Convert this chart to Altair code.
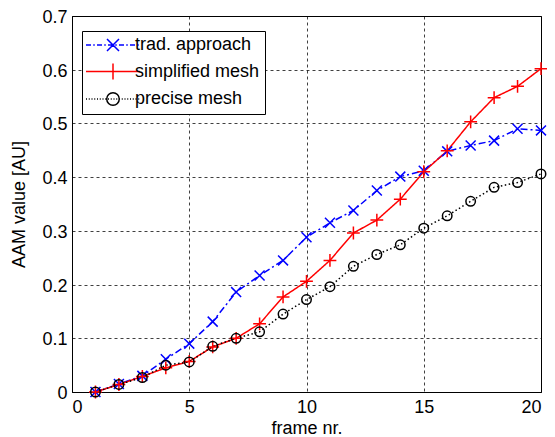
import altair as alt
import pandas as pd

frames = list(range(1, 21))
trad = [0.0, 0.015, 0.030, 0.061, 0.090, 0.131, 0.186, 0.217, 0.245, 0.288,
        0.315, 0.338, 0.375, 0.401, 0.412, 0.448, 0.459, 0.468, 0.490, 0.487]
simplified = [0.0, 0.014, 0.029, 0.045, 0.057, 0.084, 0.100, 0.127, 0.177, 0.206,
              0.245, 0.296, 0.320, 0.359, 0.410, 0.449, 0.503, 0.548, 0.569, 0.602]
precise = [0.0, 0.014, 0.027, 0.050, 0.056, 0.085, 0.100, 0.112, 0.145, 0.172,
           0.196, 0.234, 0.256, 0.274, 0.305, 0.328, 0.355, 0.381, 0.390, 0.406]
series_names = ["trad. approach", "simplified mesh", "precise mesh"]
series_colors = ["#0000ff", "#ff0000", "#000000"]
x_ticks = [0, 5, 10, 15, 20]
y_ticks = [0, 0.1, 0.2, 0.3, 0.4, 0.5, 0.6, 0.7]

rows = []
for name, vals in zip(series_names, [trad, simplified, precise]):
    for f, v in zip(frames, vals):
        rows.append({"frame": f, "value": v, "series": name})
df = pd.DataFrame(rows)

FONT = "Liberation Sans"

color_scale = alt.Scale(domain=series_names, range=series_colors)
dash_scale = alt.Scale(domain=series_names, range=[[7, 3, 2, 3], [1, 0], [1.5, 2.5]])
marker_scale = alt.Scale(
    domain=series_names,
    range=[
        "M-1.05,-1.05L1.05,1.05M-1.05,1.05L1.05,-1.05",
        "M-1.35,0L1.35,0M0,-1.35L0,1.35",
        "circle",
    ],
)

# legend symbols: line segment (dash drawn into the path) + marker
leg_x = "M-1.2,-1.2L1.2,1.2M-1.2,1.2L1.2,-1.2"
leg_plus = "M-1.6,0L1.6,0M0,-1.6L0,1.6"
leg_circ = "M-1.25,0A1.25,1.25 0 1,0 1.25,0A1.25,1.25 0 1,0 -1.25,0"
HALF = 5.4


def seg_path(pattern, start=-HALF, end=HALF):
    parts = []
    x = start
    i = 0
    while x < end:
        d = pattern[i % len(pattern)]
        if i % 2 == 0:
            parts.append("M%.2f,0L%.2f,0" % (x, min(x + d, end)))
        x += d
        i += 1
    return "".join(parts)


legend_scale = alt.Scale(
    domain=series_names,
    range=[
        seg_path([1.0, 0.45, 0.3, 0.45]) + leg_x,
        "M-%.2f,0L%.2f,0" % (HALF, HALF) + leg_plus,
        seg_path([0.2, 0.35]) + leg_circ,
    ],
)

x_enc = alt.X("frame:Q", scale=alt.Scale(domain=[0, 20], nice=False),
              axis=alt.Axis(values=x_ticks, title="frame nr."))
y_enc = alt.Y("value:Q", scale=alt.Scale(domain=[0, 0.7], nice=False),
              axis=alt.Axis(values=y_ticks, format="~g", title="AAM value [AU]"))

base = alt.Chart(df)

lines = base.mark_line(strokeWidth=1.5).encode(
    x=x_enc, y=y_enc,
    color=alt.Color("series:N", scale=color_scale, legend=None),
    strokeDash=alt.StrokeDash("series:N", scale=dash_scale, legend=None),
    detail="series:N",
)

points = base.mark_point(filled=False, size=90, strokeWidth=1.5, opacity=1).encode(
    x=x_enc, y=y_enc,
    color=alt.Color("series:N", scale=color_scale, legend=None),
    shape=alt.Shape("series:N", scale=marker_scale, legend=None),
)

legend_layer = base.mark_point(filled=False, size=64, strokeWidth=1.5, opacity=1).encode(
    x=x_enc, y=y_enc,
    color=alt.Color("series:N", scale=color_scale, legend=alt.Legend(title=None)),
    shape=alt.Shape("series:N", scale=legend_scale, legend=alt.Legend(title=None)),
).transform_filter("false")

chart = alt.layer(lines, points, legend_layer).resolve_scale(
    color="independent", shape="independent"
).properties(
    width=469, height=376,
    autosize=alt.AutoSizeParams(type="none"),
    padding={"left": 64, "top": 8, "right": 6, "bottom": 45},
).configure_view(
    stroke="#000000", strokeWidth=1,
).configure_axis(
    labelFont=FONT, titleFont=FONT, labelFontSize=18, titleFontSize=18,
    labelColor="#000000", titleColor="#000000", titleFontWeight="normal",
    domainColor="#000000", ticks=False, labelPadding=5,
    grid=True, gridColor="#000000", gridDash=[3, 3], gridOpacity=0.75, gridWidth=1,
).configure_axisX(
    labelPadding=6, titleBaseline="alphabetic", titleY=41,
).configure_axisY(
    titlePadding=13, labelOffset=1.5,
).configure_legend(
    orient="none", legendX=10, legendY=15,
    labelFont=FONT, labelFontSize=18, labelColor="#000000",
    strokeColor="#000000", fillColor="#ffffff", padding=5,
    symbolStrokeWidth=1.5, symbolOffset=17, labelOffset=13,
    rowPadding=6.5, cornerRadius=0,
)

chart.save("out.html", embed_options={"renderer": "svg", "actions": False})
